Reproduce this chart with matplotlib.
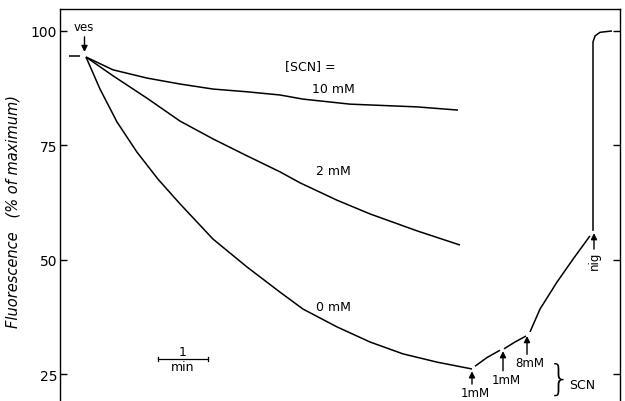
import matplotlib
matplotlib.use("Agg")
import matplotlib.pyplot as plt
import numpy as np

# ---- data (time in min, fluorescence in % of maximum) ----
base_t = [-0.34, -0.12]
base_v = [94.6, 94.6]

t10 = [0.0, 0.54, 1.22, 1.88, 2.54, 3.22, 3.88, 4.34, 5.28, 6.62, 7.44]
v10 = [94.3, 91.5, 89.7, 88.4, 87.3, 86.7, 86.0, 85.1, 84.0, 83.4, 82.7]

t2 = [0.0, 0.54, 1.22, 1.88, 2.54, 3.22, 3.88, 4.28, 5.02, 5.68, 6.62, 7.48]
v2 = [94.3, 90.2, 85.3, 80.3, 76.4, 72.7, 69.2, 66.8, 63.0, 60.0, 56.3, 53.2]

t0 = [0.0, 0.28, 0.62, 1.02, 1.44, 1.88, 2.54, 3.22, 3.88, 4.34, 5.02, 5.68, 6.34, 7.02, 7.72]
v0 = [94.3, 87.3, 80.1, 73.5, 67.6, 62.2, 54.5, 48.4, 42.9, 39.2, 35.3, 32.0, 29.4, 27.6, 26.1]

seg1_t = [7.78, 8.02, 8.28]
seg1_v = [26.7, 28.6, 30.2]
seg2_t = [8.36, 8.58, 8.80]
seg2_v = [30.5, 32.0, 33.3]
seg3_t = [8.88, 9.08, 9.42, 9.74, 10.08]
seg3_v = [34.2, 39.2, 45.1, 50.1, 55.2]
nig_t = [10.14, 10.14, 10.18, 10.28, 10.52]
nig_v = [56.3, 97.6, 98.9, 99.7, 100.0]

yticks = [25, 50, 75, 100]
ytick_labels = ["25", "50", "75", "100"]

# arrows: (x, tip value, tail value, label)
scn_arrows_t = [7.72, 8.34, 8.82]
scn_arrows_tip = [25.6, 30.0, 33.3]
scn_arrows_tail = [22.8, 25.7, 29.3]
scn_labels = ["1mM", "1mM", "8mM"]

fig = plt.figure(figsize=(6.25, 4.02), dpi=100)
ax = fig.add_axes([60/625, 0.0, 560/625, 392/402])
ax.set_xlim(-0.52, 10.68)
ax.set_ylim(19.1, 104.8)

lw = 1.1
for tt, vv in [(base_t, base_v), (t10, v10), (t2, v2), (t0, v0),
               (seg1_t, seg1_v), (seg2_t, seg2_v), (seg3_t, seg3_v), (nig_t, nig_v)]:
    ax.plot(tt, vv, color="black", lw=lw, solid_capstyle="butt")

ax.spines["bottom"].set_visible(False)
for s in ["left", "right", "top"]:
    ax.spines[s].set_linewidth(1.0)
ax.set_xticks([])
ax.set_yticks(yticks)
ax.set_yticklabels(ytick_labels, fontsize=10)
ax.tick_params(axis="y", direction="in", length=5, width=1, right=True, left=True, pad=2)

ax.set_ylabel("Fluorescence   (% of maximum)", fontsize=10.5, style="italic")
ax.yaxis.set_label_coords(-0.071, 0.485)

ap = dict(arrowstyle="-|>", color="black", lw=1.0, mutation_scale=9, shrinkA=0, shrinkB=0)

# ves arrow
ax.annotate("", xy=(-0.03, 95.4), xytext=(-0.03, 98.7), arrowprops=ap)
ax.text(-0.05, 99.5, "ves", fontsize=8.5, ha="center", va="bottom")

# concentration labels
ax.text(4.48, 91.0, "[SCN] =", fontsize=9, ha="center", va="bottom")
ax.text(4.94, 86.0, "10 mM", fontsize=9, ha="center", va="bottom")
ax.text(4.94, 68.0, "2 mM", fontsize=9, ha="center", va="bottom")
ax.text(4.94, 38.3, "0 mM", fontsize=9, ha="center", va="bottom")

# SCN arrows
for x, tip, tail, lab in zip(scn_arrows_t, scn_arrows_tip, scn_arrows_tail, scn_labels):
    ax.annotate("", xy=(x, tip), xytext=(x, tail), arrowprops=ap)
    ax.text(x + 0.06, tail - 0.4, lab, fontsize=8.5, ha="center", va="top")

# brace and SCN
ax.text(9.47, 24.0, "}", fontsize=26, ha="center", va="center", fontweight="light")
ax.text(9.93, 22.8, "SCN", fontsize=9, ha="center", va="center")

# nig arrow
ax.annotate("", xy=(10.16, 55.8), xytext=(10.16, 52.3), arrowprops=ap)
ax.text(10.16, 51.9, "nig", fontsize=8.5, ha="center", va="top", rotation=90)

# scale bar 1 min
ax.plot([1.44, 2.44], [28.3, 28.3], color="black", lw=0.9)
ax.plot([1.44, 1.44], [27.8, 28.8], color="black", lw=0.9)
ax.plot([2.44, 2.44], [27.8, 28.8], color="black", lw=0.9)
ax.text(1.94, 28.5, "1", fontsize=9, ha="center", va="bottom")
ax.text(1.94, 28.0, "min", fontsize=9, ha="center", va="top")

fig.savefig("out.png", dpi=100)
